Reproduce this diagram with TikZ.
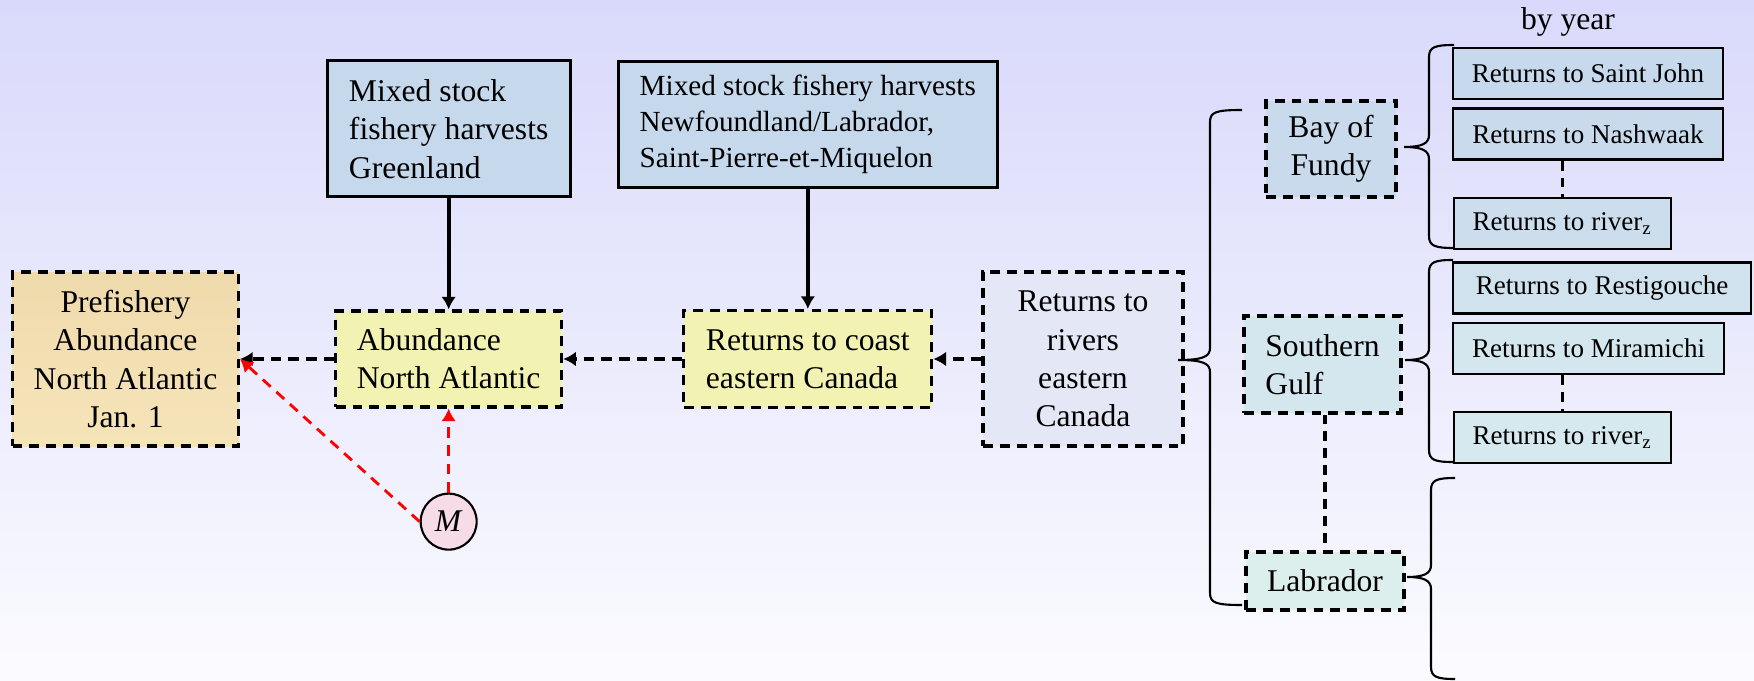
\documentclass[tikz,border=0pt]{standalone}
\usepackage{fontspec}
\setmainfont{Liberation Serif}
\usepackage{xcolor}
\definecolor{Sky}{HTML}{D9D9FB}
\definecolor{Mist}{HTML}{FBFBFF}
\definecolor{Wheat}{HTML}{EFDAAC}
\definecolor{WheatLight}{HTML}{F6E4B9}
\definecolor{Steel}{HTML}{C6D8EC}
\definecolor{Lemon}{HTML}{F2F2B2}
\definecolor{Slate}{HTML}{E4E7F5}
\definecolor{Fundy}{HTML}{C8DAEC}
\definecolor{Gulf}{HTML}{D5E7EE}
\definecolor{Coast}{HTML}{DCEFEC}
\definecolor{Rose}{HTML}{F6DCE6}
\colorlet{sky}{Sky}
\colorlet{mist}{Mist}
\colorlet{wheat}{Wheat}
\colorlet{palewheat}{WheatLight}
\colorlet{steel}{Steel}
\colorlet{lemon}{Lemon}
\colorlet{slate}{Slate}
\colorlet{fundy}{Fundy}
\colorlet{gulf}{Gulf}
\colorlet{labc}{Coast}
\colorlet{rose}{Rose}
\colorlet{rvone}{Steel!95!Gulf}
\colorlet{rvtwo}{Fundy}
\colorlet{rvthree}{Fundy!70!Gulf}
\colorlet{rvfour}{Fundy!40!Gulf}
\colorlet{rvfive}{Gulf}
\colorlet{rvsix}{Gulf!80!Coast}
\usepackage{tikz}
\usetikzlibrary{arrows.meta,positioning}
\newcommand{\riverbrace}[5]{%
  \draw[curly] (#1+2*#5,#3) .. controls (#1+#5+6,#3) and (#1+#5,#3+2) .. (#1+#5,#3+12)
    -- (#1+#5,#2-12) .. controls (#1+#5,#2-3) and (#1+#5-8,#2) .. (#1,#2)
    .. controls (#1+#5-8,#2) and (#1+#5,#2+3) .. (#1+#5,#2+12)
    -- (#1+#5,#4-12) .. controls (#1+#5,#4-2) and (#1+#5+6,#4) .. (#1+2*#5,#4);}

\begin{document}
\begin{tikzpicture}[x=0.1mm,y=-0.1mm,node distance=10mm,
  every node/.style={font=\fontsize{9}{10.9}\selectfont,inner sep=0pt},
  dbox/.style={draw,line width=0.9pt,dash pattern=on 2.8pt off 2pt},
  sbox/.style={draw,line width=0.85pt},
  rbox/.style={draw,line width=0.7pt,minimum height=5.1mm,font=\fontsize{7.7}{9}\selectfont},
  harv/.style={-{Latex[length=3.6pt,width=4.2pt]},line width=1.1pt},
  flow/.style={harv,dash pattern=on 3pt off 2pt},
  mort/.style={-{Latex[length=3.6pt,width=4.2pt]},red,line width=0.8pt,dash pattern=on 3pt off 2.2pt},
  link/.style={line width=0.9pt,dash pattern=on 2.8pt off 2pt},
  curly/.style={line width=0.6pt}]
\shade[top color=sky,bottom color=mist] (0,0) rectangle (1754,681);
\useasboundingbox (0,0) rectangle (1754,681);
% main chain
\node[dbox,top color=wheat,bottom color=palewheat,minimum width=22.6mm,minimum height=17.4mm,align=center] (pre) at (125.5,359) {Prefishery\\Abundance\\North Atlantic\\Jan. 1};
\node[dbox,fill=lemon,minimum width=22.6mm,minimum height=9.6mm,align=left,right=9.4mm of pre] (abn) {Abundance\\North Atlantic};
\node[dbox,fill=lemon,minimum width=24.8mm,minimum height=9.7mm,align=left,right=11.9mm of abn] (cst) {Returns to coast\\eastern Canada};
\node[dbox,fill=slate,minimum width=20mm,minimum height=17.4mm,align=center,right=4.8mm of cst] (riv) {Returns to\\rivers\\eastern\\Canada};
\node[sbox,fill=steel,minimum width=24.3mm,minimum height=13.6mm,align=left,above=11.1mm of abn] (grn) {Mixed stock\\fishery harvests\\Greenland};
\node[sbox,fill=steel,minimum width=37.9mm,minimum height=12.6mm,align=left,font=\fontsize{8.3}{10.2}\selectfont,above=12mm of cst] (nl) {Mixed stock fishery harvests\\Newfoundland/Labrador,\\Saint-Pierre-et-Miquelon};
\node[circle,draw,line width=0.6pt,fill=rose,minimum size=5.6mm,below=8.4mm of abn] (m) {\textit{M}};
% regions
\node[dbox,fill=fundy,minimum width=13mm,minimum height=9.6mm,align=center] (bof) at (1331,149) {Bay of\\Fundy};
\node[dbox,fill=gulf,minimum width=15.7mm,minimum height=9.7mm,align=left] (sg) at (1322.5,364.5) {Southern\\Gulf};
\node[dbox,fill=labc,minimum width=15.8mm,minimum height=5.8mm] (lab) at (1325,581) {Labrador};
% rivers
\node (yr) at (1568,22) {by year};
\node[rbox,fill=rvone,minimum width=27mm] (sj) at (1588,73.5) {Returns to Saint John};
\node[rbox,fill=rvtwo,minimum width=27mm] (nw) at (1588,134) {Returns to Nashwaak};
\node[rbox,fill=rvthree,minimum width=21.7mm] (rza) at (1562.5,223.5) {Returns to river\textsubscript{z}};
\node[rbox,fill=rvfour,minimum width=29.8mm] (rst) at (1602,288) {Returns to Restigouche};
\node[rbox,fill=rvfive,minimum width=27.1mm] (mir) at (1588.5,348.5) {Returns to Miramichi};
\node[rbox,fill=rvsix,minimum width=21.7mm] (rzb) at (1562.5,437.5) {Returns to river\textsubscript{z}};
% connectors
\draw[harv] (grn) -- (abn);
\draw[harv] (nl) -- (cst);
\draw[flow] (abn) -- (pre);\draw[flow] (cst) -- (abn);\draw[flow] (riv) -- (cst);
\draw[mort] (m) -- (abn);
\draw[mort] (m.west) -- (pre.east);
\draw[link] (nw.south -| rza.north) -- (rza.north);
\draw[link] (mir.south -| rzb.north) -- (rzb.north);
\draw[link] (sg.south -| lab.north) -- (lab.north);
% braces
\riverbrace{1178}{360}{110}{605}{32}
\riverbrace{1404}{147}{45}{248}{25}
\riverbrace{1405}{360}{260}{462}{24}
\riverbrace{1407}{577}{478}{679}{24}
\end{tikzpicture}
\end{document}
